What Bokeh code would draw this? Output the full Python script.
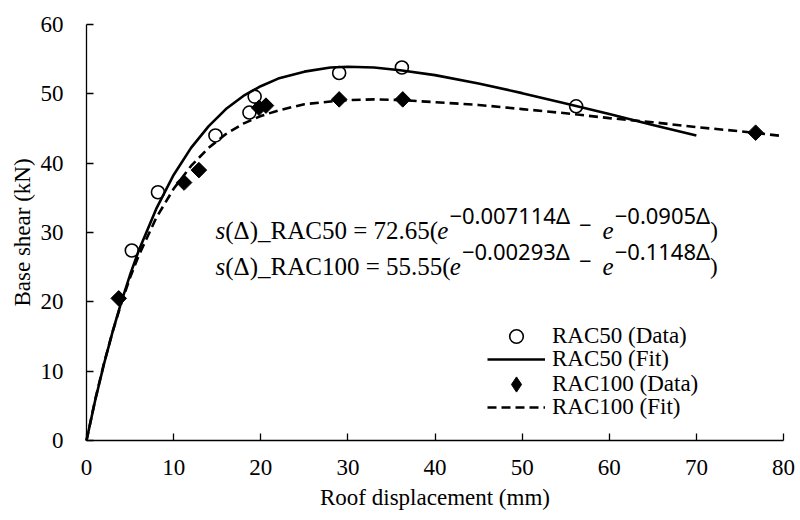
from bokeh.plotting import figure
from bokeh.models import Range1d, Label, Legend, LegendItem, FixedTicker
from bokeh.embed import file_html
from bokeh.resources import INLINE
import numpy as np

# ---- data ----
rac50_x = [5.2, 8.2, 14.8, 18.7, 19.3, 29.0, 36.2, 56.2]
rac50_y = [27.4, 35.8, 44.0, 47.3, 49.6, 53.0, 53.8, 48.2]
rac100_x = [3.7, 11.2, 12.9, 19.8, 20.6, 29.0, 36.3, 76.8]
rac100_y = [20.5, 37.2, 39.0, 48.0, 48.3, 49.2, 49.2, 44.4]

fit50_x = [0, 1, 2, 3, 4, 5, 6, 8, 10, 12, 14, 16, 18, 20, 22, 25, 28, 30, 33, 36, 40, 45, 50, 55, 60, 65, 70]
fit50_y = [0, 5.8, 11.0, 15.7, 20.0, 23.9, 27.4, 33.4, 38.3, 42.2, 45.3, 47.8, 49.7, 51.1, 52.2, 53.2, 53.8, 53.9, 53.8, 53.4, 52.7, 51.5, 50.1, 48.6, 47.1, 45.5, 44.0]
fit100_x = [0, 1, 2, 3, 4, 5, 6, 8, 10, 12, 14, 16, 18, 20, 22, 25, 28, 30, 33, 36, 40, 45, 50, 55, 60, 65, 70, 75, 80]
fit100_y = [0, 5.9, 11.1, 15.7, 19.8, 23.5, 26.7, 32.1, 36.3, 39.6, 42.2, 44.2, 45.7, 46.8, 47.6, 48.5, 48.9, 49.1, 49.2, 49.1, 48.8, 48.4, 47.8, 47.2, 46.5, 45.9, 45.2, 44.6, 43.9]

x_ticks = [0, 10, 20, 30, 40, 50, 60, 70, 80]
y_ticks = [0, 10, 20, 30, 40, 50, 60]
x_title = "Roof displacement (mm)"
y_title = "Base shear (kN)"

SERIF = "Liberation Serif"
SANS = "Noto Sans"
FS = "23px"

# ---- layout (pixels) ----
W, H = 796, 512
FL, FR, FT, FB = 4, 796, 8, 512          # plot frame edges
AX0, AX1, AY0, AY1 = 86, 783, 440, 24     # where the axes run
X0, X1, Y0, Y1 = x_ticks[0], x_ticks[-1], y_ticks[0], y_ticks[-1]
sx = (AX1 - AX0) / (X1 - X0)
sy = (AY0 - AY1) / (Y1 - Y0)

p = figure(width=W, height=H, output_backend="svg", toolbar_location=None, title=None,
           x_range=Range1d(X0 - (AX0 - FL) / sx, X1 + (FR - AX1) / sx),
           y_range=Range1d(Y0 - (FB - AY0) / sy, Y1 + (AY1 - FT) / sy),
           min_border_left=FL, min_border_right=W - FR,
           min_border_top=FT, min_border_bottom=H - FB)
p.outline_line_color = None
p.grid.visible = False
p.background_fill_color = "white"
p.border_fill_color = "white"

p.xaxis.ticker = FixedTicker(ticks=x_ticks)
p.yaxis.ticker = FixedTicker(ticks=y_ticks)
p.xaxis.fixed_location = Y0
p.yaxis.fixed_location = X0
p.xaxis.bounds = (X0, X1)
p.yaxis.bounds = (Y0, Y1)
p.axis.axis_line_width = 1.3
p.axis.axis_line_color = "black"
p.axis.major_tick_in = 7
p.axis.major_tick_out = 0
p.axis.major_tick_line_width = 1.3
p.axis.minor_tick_line_color = None
p.axis.major_label_standoff = 0
# tick labels are drawn as individual serif labels at the tick values
p.xaxis.major_label_overrides = {t: "" for t in x_ticks}
p.yaxis.major_label_overrides = {t: "" for t in y_ticks}

def txt(**kw):
    base = dict(text_font=SERIF, text_font_size=FS, text_color="black")
    base.update(kw)
    p.add_layout(Label(**base))

for t in x_ticks:
    txt(x=t, y=Y0, y_offset=-27, text=str(t), text_align="center", text_baseline="middle")
for t in y_ticks:
    txt(x=X0, y=t, x_offset=-23, text=str(t), text_align="right", text_baseline="middle")
txt(x=(X0 + X1) / 2, y=Y0, y_offset=-57, text=x_title, text_align="center", text_baseline="middle")
txt(x=X0, y=(Y0 + Y1) / 2, x_offset=-64, angle=np.pi / 2, text=y_title,
    text_align="center", text_baseline="middle")

r_fit50 = p.line(fit50_x, fit50_y, line_color="black", line_width=2.6)
r_fit100 = p.line(fit100_x, fit100_y, line_color="black", line_width=2.6, line_dash="9 5")
r_d50 = p.scatter(rac50_x, rac50_y, marker="circle", size=13, line_color="black",
                  line_width=1.6, fill_alpha=0)
r_d100 = p.scatter(rac100_x, rac100_y, marker="square", size=11, angle=np.pi / 4,
                   line_color="black", fill_color="black")
# legend proxy for the diamond symbol (legend glyphs ignore marker angle)
r_d100_key = p.scatter(rac100_x, rac100_y, marker="diamond", size=15,
                       line_color="black", fill_color="black", visible=False)

rows = [("RAC50 (Data)", r_d50, 34),
        ("RAC50 (Fit)", r_fit50, 24),
        ("RAC100 (Data)", r_d100_key, 38),
        ("RAC100 (Fit)", r_fit100, 24)]
row_page_y = [336, 360, 384, 408]
for (lab, rend, gh), yc in zip(rows, row_page_y):
    lg = Legend(items=[LegendItem(label=lab, renderers=[rend])],
                location=(487 - FL, FB - yc - gh / 2))
    lg.label_text_font = SERIF
    lg.label_text_font_size = FS
    lg.label_text_color = "black"
    lg.glyph_width = 58
    lg.glyph_height = gh
    lg.label_height = 24
    lg.label_standoff = 7
    lg.padding = 0
    lg.margin = 0
    lg.spacing = 0
    lg.border_line_color = None
    lg.background_fill_alpha = 0
    p.add_layout(lg, "center")

# ---- equations, composed of pieces ----
SERIF_W = {'(': .333, ')': .333, 'Δ': .612, '_': .5, 'R': .667, 'A': .722, 'C': .667,
           ' ': .25, '=': .564, '.': .25, 's': .389, 'e': .444}
SANS_W = {'−': .572, '.': .268, 'Δ': .64}

def w_serif(s, size):
    return sum(SERIF_W.get(c, .5) for c in s) * size

def w_sans(s, size):
    return sum(SANS_W.get(c, .572) for c in s) * size

def equation(x0, y0, name, coef, k1, k2):
    ss, es = 25, 22
    pieces = [
        ("s", SERIF, "italic", ss, 0, w_serif("s", ss)),
        ("(Δ)_" + name + " = " + coef + "(", SERIF, "normal", ss, 0, None),
        ("e", SERIF, "italic", ss, 0, w_serif("e", ss) + 1),
        ("−" + k1 + "Δ", SANS, "normal", es, 15, None),
        ("−", SANS, "normal", es, 5, None),
        ("e", SERIF, "italic", ss, 0, w_serif("e", ss) + 1),
        ("−" + k2 + "Δ", SANS, "normal", es, 15, None),
        (")", SERIF, "normal", ss - 2, 0, None),
    ]
    off = 0.0
    for i, (t, font, style, size, dy, w) in enumerate(pieces):
        if i == 4:
            off += 9
        p.add_layout(Label(x=x0, y=y0, x_offset=off, y_offset=dy, text=t,
                           text_font=font, text_font_style=style,
                           text_font_size=f"{size}px", text_color="black",
                           text_baseline="alphabetic", text_align="left"))
        if w is None:
            w = w_serif(t, size) if font == SERIF else w_sans(t, size)
        off += w
        if i == 4:
            off += 11

equation(14.81, 30.3, "RAC50", "72.65", "0.007114", "0.0905")
equation(14.81, 25.1, "RAC100", "55.55", "0.00293", "0.1148")

open("out.html", "w").write(file_html(p, INLINE))
